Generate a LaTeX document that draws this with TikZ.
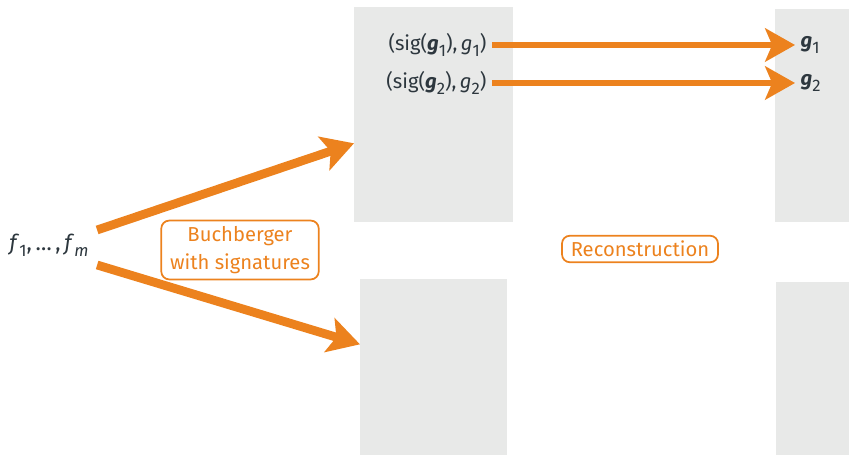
\documentclass[tikz,border=0pt]{standalone}
\usepackage{fontspec}
\setmainfont{Fira Sans}
\usetikzlibrary{arrows.meta, positioning, calc}
\definecolor{SigOrange}{RGB}{236,130,30}
\definecolor{PanelGray}{RGB}{232,233,232}
\definecolor{InkSlate}{RGB}{45,55,62}
\newcommand{\boldg}{\textbf{\textit{g}}}
\newcommand{\lowsub}[1]{\raisebox{-0.5ex}{\fontsize{9.5}{10}\selectfont #1}}

\begin{document}
\begin{tikzpicture}[x=0.02cm, y=-0.02cm, font=\fontsize{11.5}{16.4}\selectfont,
    panel/.style={fill=PanelGray, inner sep=0pt, anchor=north west},
    ink/.style={text=InkSlate, inner sep=3pt},
    tag/.style={draw=SigOrange, text=SigOrange, line width=1pt, rounded corners=4.5pt, inner xsep=5pt, inner ysep=3pt, align=center},
    flow/.style={draw=SigOrange, line width=3pt, -{Stealth[length=17pt, width=19pt, inset=4pt]}},
    bigflow/.style={draw=SigOrange, line width=5pt, -{Stealth[length=18pt, width=20pt, inset=4pt]}}]
    \useasboundingbox (0,0) rectangle (849,455);

    \node[panel, minimum width=3.18cm, minimum height=4.3cm] (sigtop) at (354,7) {};
    \node[panel, minimum width=2.94cm, minimum height=3.52cm] (sigbot) at (360,279) {};
    \node[panel, minimum width=1.48cm, minimum height=4.26cm] (gbtop) at (775,9) {};
    \node[panel, minimum width=1.46cm, minimum height=3.46cm] (gbbot) at (776,282) {};

    \node[ink, anchor=east] (pair1) at (492,45) {(sig(\boldg\lowsub{1}),\,\textit{g}\lowsub{1})};
    \node[ink, anchor=east] (pair2) at (492,83) {(sig(\boldg\lowsub{2}),\,\textit{g}\lowsub{2})};
    \node[ink, anchor=west] (g1) at (795,45) {\boldg\lowsub{1}};
    \node[ink, anchor=west] (g2) at (795,83) {\boldg\lowsub{2}};

    \node[ink, font=\fontsize{12.5}{16}\selectfont] (gens) at (49,245) {\textit{f}\lowsub{1},\,…\,,\,\textit{f}\lowsub{\textit{m}}};

    \node[tag] (buch) at (240,250) {Buchberger\\with signatures};
    \node[tag] (recon) at (640,249) {Reconstruction};

    \draw[bigflow] ([xshift=0.06cm, yshift=0.3cm]gens.east) -- ([yshift=-0.57cm]sigtop.west);
    \draw[bigflow] ([xshift=0.06cm, yshift=-0.4cm]gens.east) -- ([yshift=0.46cm]sigbot.west);
    \draw[flow] (pair1.east) -- (pair1.east -| g1.west);
    \draw[flow] (pair2.east) -- (pair2.east -| g2.west);
\end{tikzpicture}
\end{document}
